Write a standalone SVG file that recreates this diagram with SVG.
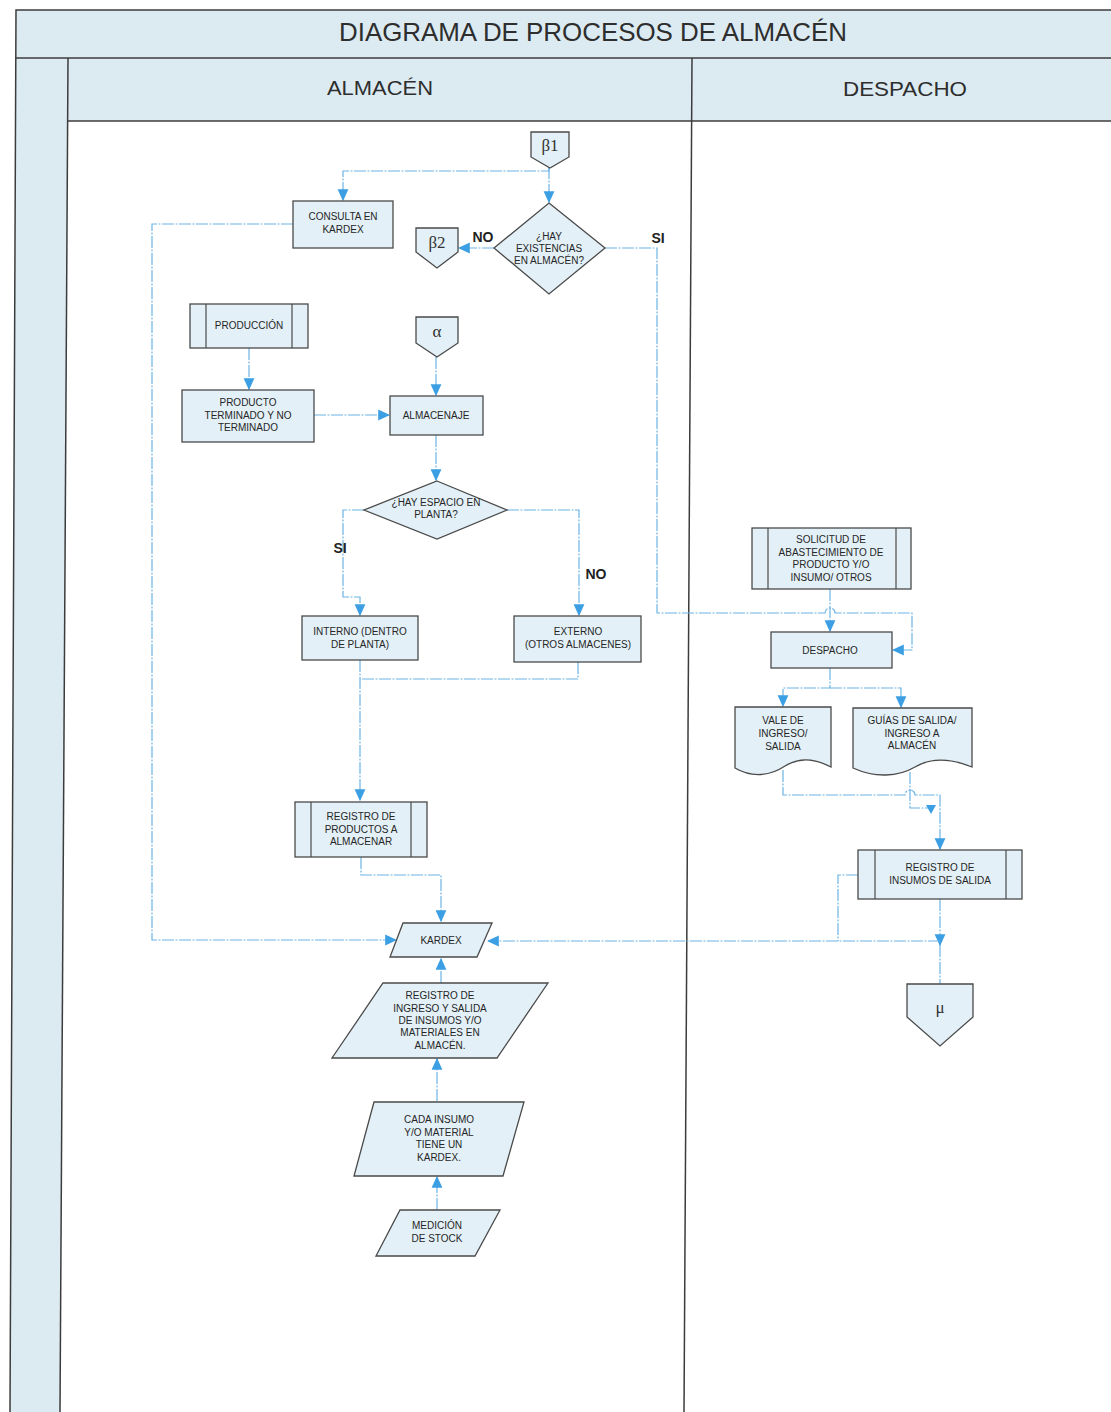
<svg xmlns="http://www.w3.org/2000/svg" width="1111" height="1412" viewBox="0 0 1111 1412">
<style>
.bg{fill:#dcebf2;stroke:none}
.frame{stroke:#3c3c3c;stroke-width:1.5;fill:none}
.n{fill:#e3f0f7;stroke:#4a4a4a;stroke-width:1.3}
.il{stroke:#4a4a4a;stroke-width:1.2}
.t{font-family:"Liberation Sans",Arial,sans-serif;font-size:10px;fill:#262626;text-anchor:middle}
.h{font-family:"Liberation Sans",Arial,sans-serif;fill:#2e2e2e;text-anchor:middle}
.g{font-family:"Liberation Serif","Times New Roman",serif;font-size:17px;fill:#333;text-anchor:middle}
.lb{font-family:"Liberation Sans",Arial,sans-serif;font-size:14px;font-weight:bold;fill:#222;text-anchor:middle}
.c{fill:none;stroke:#6cb4e4;stroke-width:1.2;stroke-dasharray:12 1.5 2 1.5}
.a{marker-end:url(#ar)}
.tri{fill:#3d9fe3}
</style>
<defs>
<marker id="ar" markerUnits="userSpaceOnUse" markerWidth="12" markerHeight="12" viewBox="0 0 10 10" refX="9" refY="5" orient="auto">
<path d="M0,0.5 L10,5 L0,9.5 Z" fill="#3d9fe3"/>
</marker>
</defs>
<rect x="0" y="0" width="1111" height="1412" fill="#ffffff"/>
<g id="frame">
<polygon class="bg" points="16,10 1111,10 1111,58 16,58"/>
<polygon class="bg" points="16,58 68,58 60,1412 10,1412"/>
<polygon class="bg" points="68,58 1111,58 1111,121 68,121"/>
<polyline class="frame" points="1111,10 16,10 10,1412"/>
<line class="frame" x1="16" y1="58" x2="1111" y2="58"/>
<line class="frame" x1="68" y1="58" x2="60" y2="1412"/>
<line class="frame" x1="68" y1="121" x2="1111" y2="121"/>
<line class="frame" x1="692" y1="58" x2="684" y2="1412"/>
<text class="h" x="593" y="41" font-size="25" textLength="508" lengthAdjust="spacingAndGlyphs">DIAGRAMA DE PROCESOS DE ALMACÉN</text>
<text class="h" x="380" y="95" font-size="20" textLength="106" lengthAdjust="spacingAndGlyphs">ALMACÉN</text>
<text class="h" x="905" y="96" font-size="20" textLength="124" lengthAdjust="spacingAndGlyphs">DESPACHO</text>
</g>
<g id="connectors">
<path class="c a" d="M549,167 V171 H343 V200"/>
<path class="c a" d="M549,167 V202"/>
<path class="c a" d="M494,248 H459"/>
<path class="c a" d="M605,248 H657 V613 H825 A5,5 0 0 1 835,613 H912 V650 H893"/>
<path class="c a" d="M830,589 V631"/>
<path class="c a" d="M293,224 H152 V940 H396"/>
<path class="c a" d="M249,348 V389"/>
<path class="c a" d="M314,415 H389"/>
<path class="c a" d="M436,357 V395"/>
<path class="c a" d="M436,435 V480"/>
<path class="c a" d="M364,510 H343 V597 H360 V615"/>
<path class="c a" d="M507,510 H579 V615"/>
<path class="c a" d="M360,660 V800"/>
<path class="c" d="M578,662 V679 H360"/>
<path class="c a" d="M361,857 V875 H441 V921"/>
<path class="c a" d="M441,983 V959"/>
<path class="c a" d="M437,1101 V1059"/>
<path class="c a" d="M437,1210 V1177"/>
<path class="c a" d="M830,668 V688 H783 V706"/>
<path class="c a" d="M830,688 H901 V707"/>
<path class="c a" d="M783,770 V795 H905 A5,5 0 0 1 915,795 H940 V849"/>
<path class="c" d="M910,772 V808 H931"/>
<polygon class="tri" points="926,805 936,805 931,814"/>
<path class="c" d="M858,875 H838 V941"/>
<path class="c a" d="M940,899 V945"/>
<path class="c" d="M940,945 V984"/>
<path class="c a" d="M940,941 H488"/>
</g>
<g id="b1">
<polygon class="n" points="531,132 569,132 569,157 550,168 531,157"/>
<text class="g" x="550" y="151">β1</text>
</g>
<g id="consulta">
<rect class="n" x="293" y="201" width="100" height="47"/>
<text class="t" x="343" y="220">CONSULTA EN</text>
<text class="t" x="343" y="233">KARDEX</text>
</g>
<g id="existencias">
<polygon class="n" points="549,203 605,248 549,294 494,248"/>
<text class="t" x="549" y="240">¿HAY</text>
<text class="t" x="549" y="252">EXISTENCIAS</text>
<text class="t" x="549" y="264">EN ALMACÉN?</text>
<text class="lb" x="483" y="242">NO</text>
<text class="lb" x="658" y="243">SI</text>
</g>
<g id="b2">
<polygon class="n" points="416,228 458,228 458,252 437,268 416,252"/>
<text class="g" x="437" y="248">β2</text>
</g>
<g id="produccion">
<rect class="n" x="190" y="304" width="118" height="44"/>
<line class="il" x1="206" y1="304" x2="206" y2="348"/>
<line class="il" x1="292" y1="304" x2="292" y2="348"/>
<text class="t" x="249" y="329">PRODUCCIÓN</text>
</g>
<g id="alpha">
<polygon class="n" points="416,317 458,317 458,343 437,357 416,343"/>
<text class="g" x="437" y="337">α</text>
</g>
<g id="producto">
<rect class="n" x="182" y="390" width="132" height="52"/>
<text class="t" x="248" y="406">PRODUCTO</text>
<text class="t" x="248" y="419">TERMINADO Y NO</text>
<text class="t" x="248" y="431">TERMINADO</text>
</g>
<g id="almacenaje">
<rect class="n" x="390" y="396" width="93" height="39"/>
<text class="t" x="436" y="419">ALMACENAJE</text>
</g>
<g id="espacio">
<polygon class="n" points="437,481 507,510 437,539 364,510"/>
<text class="t" x="436" y="506">¿HAY ESPACIO EN</text>
<text class="t" x="436" y="518">PLANTA?</text>
<text class="lb" x="340" y="553">SI</text>
<text class="lb" x="596" y="579">NO</text>
</g>
<g id="interno">
<rect class="n" x="302" y="616" width="116" height="44"/>
<text class="t" x="360" y="635">INTERNO (DENTRO</text>
<text class="t" x="360" y="648">DE PLANTA)</text>
</g>
<g id="externo">
<rect class="n" x="514" y="616" width="127" height="46"/>
<text class="t" x="578" y="635">EXTERNO</text>
<text class="t" x="578" y="648">(OTROS ALMACENES)</text>
</g>
<g id="registro-productos">
<rect class="n" x="295" y="802" width="132" height="55"/>
<line class="il" x1="311" y1="802" x2="311" y2="857"/>
<line class="il" x1="411" y1="802" x2="411" y2="857"/>
<text class="t" x="361" y="820">REGISTRO DE</text>
<text class="t" x="361" y="833">PRODUCTOS A</text>
<text class="t" x="361" y="845">ALMACENAR</text>
</g>
<g id="kardex">
<polygon class="n" points="403,923 492,923 477,957 390,957"/>
<text class="t" x="441" y="944">KARDEX</text>
</g>
<g id="registro-ingreso">
<polygon class="n" points="383,983 548,983 497,1058 332,1058"/>
<text class="t" x="440" y="999">REGISTRO DE</text>
<text class="t" x="440" y="1012">INGRESO Y SALIDA</text>
<text class="t" x="440" y="1024">DE INSUMOS Y/O</text>
<text class="t" x="440" y="1036">MATERIALES  EN</text>
<text class="t" x="440" y="1049">ALMACÉN.</text>
</g>
<g id="cada-insumo">
<polygon class="n" points="374,1102 524,1102 503,1176 354,1176"/>
<text class="t" x="439" y="1123">CADA INSUMO</text>
<text class="t" x="439" y="1136">Y/O MATERIAL</text>
<text class="t" x="439" y="1148">TIENE UN</text>
<text class="t" x="439" y="1161">KARDEX.</text>
</g>
<g id="medicion">
<polygon class="n" points="400,1210 500,1210 475,1256 376,1256"/>
<text class="t" x="437" y="1229">MEDICIÓN</text>
<text class="t" x="437" y="1242">DE STOCK</text>
</g>
<g id="solicitud">
<rect class="n" x="752" y="528" width="159" height="61"/>
<line class="il" x1="768" y1="528" x2="768" y2="589"/>
<line class="il" x1="896" y1="528" x2="896" y2="589"/>
<text class="t" x="831" y="543">SOLICITUD DE</text>
<text class="t" x="831" y="556">ABASTECIMIENTO DE</text>
<text class="t" x="831" y="568">PRODUCTO Y/O</text>
<text class="t" x="831" y="581">INSUMO/ OTROS</text>
</g>
<g id="despacho">
<rect class="n" x="771" y="632" width="121" height="36"/>
<text class="t" x="830" y="654">DESPACHO</text>
</g>
<g id="vale">
<path class="n" d="M735,707 H831 V767 C812,757 798,758 785,766 C770,776 752,778 735,768 Z"/>
<text class="t" x="783" y="724">VALE DE</text>
<text class="t" x="783" y="737">INGRESO/</text>
<text class="t" x="783" y="750">SALIDA</text>
</g>
<g id="guias">
<path class="n" d="M853,708 H972 V767 C950,758 930,758 915,767 C898,777 875,778 853,768 Z"/>
<text class="t" x="912" y="724">GUÍAS DE SALIDA/</text>
<text class="t" x="912" y="737">INGRESO A</text>
<text class="t" x="912" y="749">ALMACÉN</text>
</g>
<g id="registro-insumos">
<rect class="n" x="858" y="850" width="164" height="49"/>
<line class="il" x1="875" y1="850" x2="875" y2="899"/>
<line class="il" x1="1006" y1="850" x2="1006" y2="899"/>
<text class="t" x="940" y="871">REGISTRO DE</text>
<text class="t" x="940" y="884">INSUMOS DE SALIDA</text>
</g>
<g id="mu">
<polygon class="n" points="907,984 973,984 973,1017 940,1046 907,1017"/>
<text class="g" x="940" y="1013">μ</text>
</g>
</svg>
